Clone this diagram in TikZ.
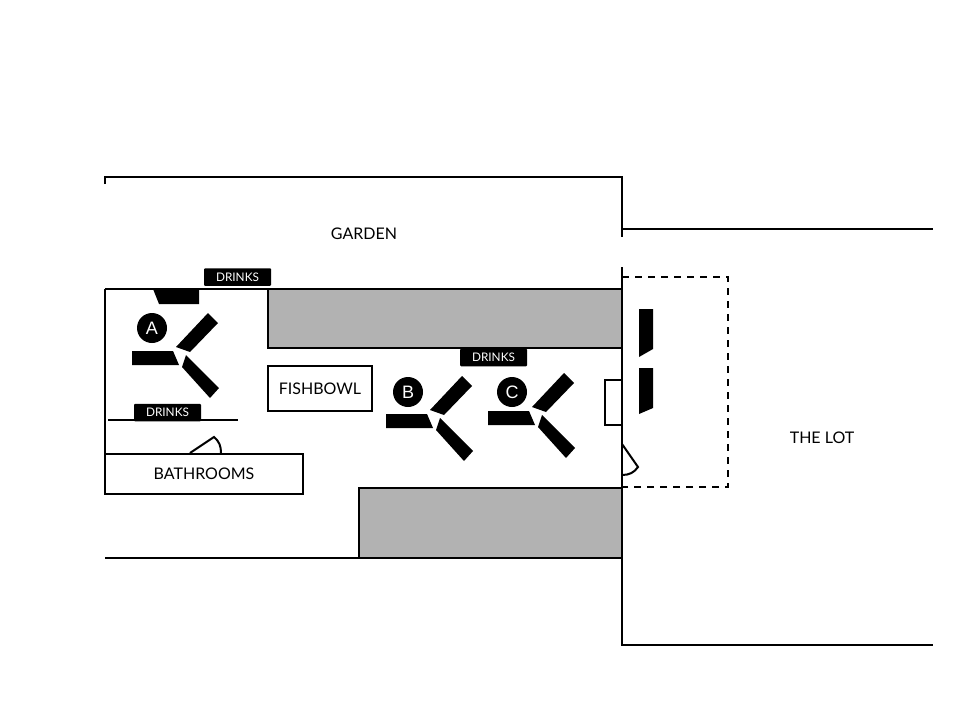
\documentclass[tikz,border=0pt]{standalone}
\usepackage{fontspec}
\setmainfont{Lato}
\tikzset{
  wall/.style={draw=black, line width=2pt},
  bar/.style={fill=black},
  tag/.style={fill=black, text=white, rounded corners=1pt, minimum width=67pt, minimum height=17.5pt, inner sep=0pt, font=\fontsize{11.8}{12}\selectfont},
  room/.style={draw=black, line width=2pt, fill=white, inner sep=0pt, font=\fontsize{16}{16}\selectfont},
  place/.style={inner sep=0pt, font=\fontsize{16}{16}\selectfont},
  stage/.style={fill=black, text=white, shape=circle, minimum size=30pt, inner sep=0pt, font=\fontsize{18}{18}\sffamily\selectfont},
}
\setsansfont{Liberation Sans}
\begin{document}
\begin{tikzpicture}[x=1pt, y=-1pt]
            \useasboundingbox (0, 0) rectangle (960, 720);

            % grey blocks
            \draw[wall, fill=black!30] (268, 289) rectangle (622, 348);
            \draw[wall, fill=black!30] (359, 488) rectangle (622, 558);

            % walls
            \draw[wall] (105, 184) -- (105, 177) -- (622, 177) -- (622, 237);
            \draw[wall] (622, 229) -- (933, 229);
            \draw[wall] (622, 267) -- (622, 645) -- (933, 645);
            \draw[wall] (105, 289) -- (622, 289);
            \draw[wall] (105, 289) -- (105, 494);
            \draw[wall] (105, 558) -- (622, 558);
            \draw[draw=black, line width=1.5pt] (108, 420) -- (238, 420);
            \draw[wall, dashed, dash pattern=on 7pt off 6pt] (622, 277) -- (728, 277) -- (728, 487) -- (622, 487);

            % rooms
            \node (bathrooms) at (204, 474) [room, minimum width=198pt, minimum height=40pt] {BATHROOMS};
            \node (fishbowl) at (320, 388.5) [room, minimum width=104pt, minimum height=45pt] {FISHBOWL};
            \node (closet) at (613.5, 402.5) [room, line width=1.5pt, minimum width=17pt, minimum height=45pt] {};

            % doors
            \draw[wall] (190, 453) -- (214, 437) to[out=-40, in=90] (221, 453);
            \draw[wall] (622, 444) -- (638, 467) to[out=-125, in=0] (622, 475);

            % bars
            \fill[bar] (153, 289) -- (199, 289) -- (199, 304) -- (159, 304) -- cycle;
            \fill[bar] (639, 309) -- (653, 309) -- (653, 349) -- (639, 357) -- cycle;
            \fill[bar] (639, 368) -- (653, 368) -- (653, 408) -- (639, 414) -- cycle;

            % stages
            \foreach \dx/\dy/\name in {0/0/A, 254/63/B, 356/60/C} {
                \begin{scope}[shift={(\dx, \dy)}]
                    \fill[bar] (132, 351) -- (173, 351) -- (179, 365) -- (132, 365) -- cycle;
                    \fill[bar] (208, 313) -- (218, 323) -- (190, 352) -- (176, 347) -- cycle;
                    \fill[bar] (186, 355) -- (219, 388) -- (210, 398) -- (182, 367) -- cycle;
                \end{scope}
            }
            \node (a) at (152, 328) [stage] {A};
            \node (b) at (408, 392) [stage] {B};
            \node (c) at (512, 392) [stage] {C};

            % labels
            \node (garden) at (364, 234) [place] {GARDEN};
            \node (lot) at (822, 438) [place] {THE LOT};
            \node (drinks1) at (237.5, 277) [tag] {DRINKS};
            \node (drinks2) at (167.5, 412.5) [tag] {DRINKS};
            \node (drinks3) at (493.5, 357.5) [tag] {DRINKS};
        \end{tikzpicture}
\end{document}
